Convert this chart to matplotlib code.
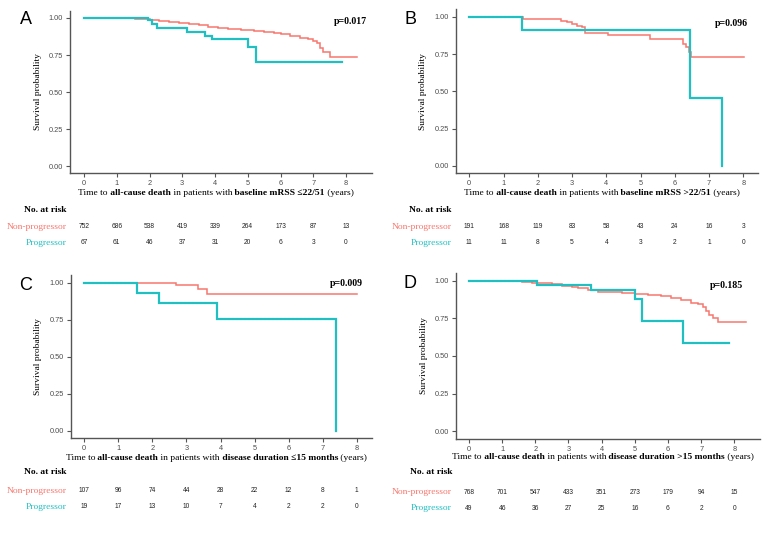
import numpy as np
import matplotlib
matplotlib.use('Agg')
from matplotlib import pyplot as plt
from matplotlib import transforms
from matplotlib.offsetbox import TextArea, HPacker, AnnotationBbox

# colours (ggplot defaults)
RED = '#F8766D'
TEAL = '#1FBFC2'

# ---- data ----
years = [0, 1, 2, 3, 4, 5, 6, 7, 8]
groups = ['Non-progressor', 'Progressor']
p_values = ['p=0.017', 'p=0.096', 'p=0.009', 'p=0.185']
letters = ['A', 'B', 'C', 'D']
subgroups = ['baseline mRSS \u226422/51', 'baseline mRSS >22/51',
             'disease duration \u226415 months', 'disease duration >15 months']

# panel A: baseline mRSS <=22/51
a_non_t = [1.55, 1.8, 2.0, 2.3, 2.6, 2.9, 3.2, 3.5, 3.8, 4.1, 4.4, 4.8, 5.2, 5.5,
           5.8, 6.0, 6.3, 6.6, 6.85, 7.0, 7.1, 7.2, 7.3, 7.5]
a_non_s = [0.995, 0.99, 0.985, 0.978, 0.972, 0.966, 0.96, 0.95, 0.94, 0.932, 0.925,
           0.92, 0.913, 0.905, 0.897, 0.89, 0.877, 0.867, 0.857, 0.845, 0.83, 0.8,
           0.77, 0.735]
a_non_end = 8.35
a_pro_t = [1.94, 2.07, 2.22, 3.16, 3.69, 3.9, 5.02, 5.24]
a_pro_s = [0.985, 0.96, 0.934, 0.907, 0.88, 0.856, 0.806, 0.70]
a_pro_end = 7.87
a_risk_non = [752, 686, 538, 419, 339, 264, 173, 87, 13]
a_risk_pro = [67, 61, 46, 37, 31, 20, 6, 3, 0]

# panel B: baseline mRSS >22/51
b_non_t = [1.58, 2.68, 2.84, 2.99, 3.14, 3.29, 3.38, 4.04, 5.28, 6.25, 6.33, 6.42, 6.48]
b_non_s = [0.985, 0.973, 0.962, 0.951, 0.94, 0.928, 0.893, 0.878, 0.852, 0.82,
           0.795, 0.765, 0.728]
b_non_end = 8.02
b_pro_t = [1.53, 6.44, 7.39]
b_pro_s = [0.909, 0.453, 0.0]
b_pro_end = 7.39
b_risk_non = [191, 168, 119, 83, 58, 43, 24, 16, 3]
b_risk_pro = [11, 11, 8, 5, 4, 3, 2, 1, 0]

# panel C: disease duration <=15 months
c_non_t = [2.69, 3.35, 3.61]
c_non_s = [0.984, 0.957, 0.924]
c_non_end = 8.02
c_pro_t = [1.54, 2.2, 3.89, 7.38]
c_pro_s = [0.928, 0.861, 0.753, 0.0]
c_pro_end = 7.38
c_risk_non = [107, 96, 74, 44, 28, 22, 12, 8, 1]
c_risk_pro = [19, 17, 13, 10, 7, 4, 2, 2, 0]

# panel D: disease duration >15 months
d_non_t = [1.3, 1.6, 1.9, 2.2, 2.5, 2.8, 3.1, 3.3, 3.6, 3.9, 4.2, 4.6, 5.0, 5.4, 5.8,
           6.1, 6.4, 6.7, 6.9, 7.05, 7.15, 7.25, 7.35, 7.52]
d_non_s = [0.997, 0.993, 0.988, 0.982, 0.976, 0.968, 0.96, 0.952, 0.94, 0.928, 0.922,
           0.916, 0.912, 0.905, 0.897, 0.885, 0.87, 0.855, 0.843, 0.825, 0.8, 0.77,
           0.75, 0.726]
d_non_end = 8.35
d_pro_t = [2.06, 3.68, 5.0, 5.23, 6.44]
d_pro_s = [0.973, 0.936, 0.878, 0.732, 0.586]
d_pro_end = 7.84
d_risk_non = [768, 701, 547, 433, 351, 273, 179, 94, 15]
d_risk_pro = [49, 46, 36, 27, 25, 16, 6, 2, 0]

curves = [
    ((a_non_t, a_non_s, a_non_end), (a_pro_t, a_pro_s, a_pro_end), a_risk_non, a_risk_pro),
    ((b_non_t, b_non_s, b_non_end), (b_pro_t, b_pro_s, b_pro_end), b_risk_non, b_risk_pro),
    ((c_non_t, c_non_s, c_non_end), (c_pro_t, c_pro_s, c_pro_end), c_risk_non, c_risk_pro),
    ((d_non_t, d_non_s, d_non_end), (d_pro_t, d_pro_s, d_pro_end), d_risk_non, d_risk_pro),
]

# ---- layout in pixels (from top-left) ----
W, H = 780, 541
# x of t=0, x of t=8, y of S=1, y of S=0, left spine, right end
geom = [
    (84.0, 346.0, 18.0, 166.0, 70.0, 372.0),
    (469.3, 743.3, 16.7, 166.0, 456.0, 758.0),
    (84.3, 356.7, 282.7, 430.7, 71.0, 371.7),
    (469.0, 734.3, 280.7, 431.3, 455.7, 760.0),
]
# xlabel y, 'No. at risk' y, row1 y, row2 y, label right x, ylabel x, letter x, letter y
text_pos = [
    (193, 210, 227, 243, 66.5, 38, 26, 20),
    (193, 210, 227, 243, 451.5, 423, 410, 19),
    (458, 472, 491, 507, 66.5, 38, 26, 285),
    (457, 472, 492, 508, 452, 424, 410, 283),
]
# p-value right end x, centre y
p_pos = [(367, 22), (748, 23), (362.7, 283), (742.7, 285)]

SERIF = ['Liberation Serif', 'DejaVu Serif']
SANS = ['Liberation Sans', 'DejaVu Sans']
GRAY = '#4D4D4D'
FS = 6.8

fig = plt.figure(figsize=(W / 100, H / 100), dpi=100)


def fx(px):
    return px / W


def fy(py):
    return 1 - py / H


def km(ax, t, s, end, color, lw):
    x = [0] + list(t) + [end]
    y = [1.0] + list(s) + [s[-1]]
    ax.step(x, y, where='post', color=color, lw=lw, solid_joinstyle='miter')


for i in range(4):
    x0, x8, y1, y0, left, right = geom[i]
    ppy = (x8 - x0) / 8.0
    ppu = (y0 - y1)
    xmin = (left - x0) / ppy
    xmax = (right - x0) / ppy
    ymin, ymax = -0.05, 1.05
    bottom_px = y0 + 0.05 * ppu
    top_px = y1 - 0.05 * ppu
    ax = fig.add_axes([fx(left), fy(bottom_px), fx(right - left), (bottom_px - top_px) / H])
    non, pro, risk_non, risk_pro = curves[i]
    km(ax, *non, RED, 1.1)
    km(ax, *pro, TEAL, 1.6)
    ax.set_xlim(xmin, xmax)
    ax.set_ylim(ymin, ymax)
    ax.set_xticks(years)
    ax.set_yticks([0, 0.25, 0.5, 0.75, 1.0])
    ax.set_yticklabels(['0.00', '0.25', '0.50', '0.75', '1.00'])
    for sp in ['top', 'right']:
        ax.spines[sp].set_visible(False)
    for sp in ['left', 'bottom']:
        ax.spines[sp].set_color('#555555')
        ax.spines[sp].set_linewidth(1.0)
    ax.tick_params(colors='#555555', labelcolor=GRAY, labelsize=5.3, length=3, width=0.8,
                   pad=2)
    for lab in ax.get_xticklabels() + ax.get_yticklabels():
        lab.set_family(SANS)

    # p-value
    px_, py_ = p_pos[i]
    fig.text(fx(px_), fy(py_), p_values[i], ha='right', va='center',
             family=SERIF, fontweight='bold', fontsize=7.1)

    xl_y, nr_y, r1_y, r2_y, lab_x, yl_x, let_x, let_y = text_pos[i]

    # panel letter
    fig.text(fx(let_x), fy(let_y), letters[i], family=SANS, fontsize=13,
             ha='center', va='center')

    # y label
    fig.text(fx(yl_x), fy((y1 + y0) / 2), 'Survival probability', family=SERIF,
             fontsize=FS, rotation=90, ha='center', va='center')

    # x label with bold parts
    parts = [('Time to', 'normal'), (' all-cause death', 'bold'),
             (' in patients with', 'normal'), (' ' + subgroups[i], 'bold'),
             (' (years)', 'normal')]
    boxes = [TextArea(s, textprops=dict(family=SERIF, fontweight=w, fontsize=FS))
             for s, w in parts]
    pack = HPacker(children=boxes, align='baseline', pad=0, sep=0)
    ab = AnnotationBbox(pack, (fx((left + right) / 2 - 5), fy(xl_y)),
                        xycoords='figure fraction',
                        box_alignment=(0.5, 0.5), frameon=False, pad=0)
    fig.add_artist(ab)

    # risk table
    fig.text(fx(lab_x), fy(nr_y), 'No. at risk', family=SERIF, fontweight='bold',
             fontsize=FS, ha='right', va='center')
    fig.text(fx(lab_x), fy(r1_y), groups[0], family=SERIF, fontsize=FS, color=RED,
             ha='right', va='center')
    fig.text(fx(lab_x), fy(r2_y), groups[1], family=SERIF, fontsize=FS, color=TEAL,
             ha='right', va='center')
    tr = transforms.blended_transform_factory(ax.transData, fig.transFigure)
    for k, yr in enumerate(years):
        ax.text(yr, fy(r1_y), str(risk_non[k]), transform=tr, family=SANS, fontsize=4.8,
                ha='center', va='center', color='#222222', clip_on=False)
        ax.text(yr, fy(r2_y), str(risk_pro[k]), transform=tr, family=SANS, fontsize=4.8,
                ha='center', va='center', color='#222222', clip_on=False)

fig.savefig('out.png', dpi=100)
